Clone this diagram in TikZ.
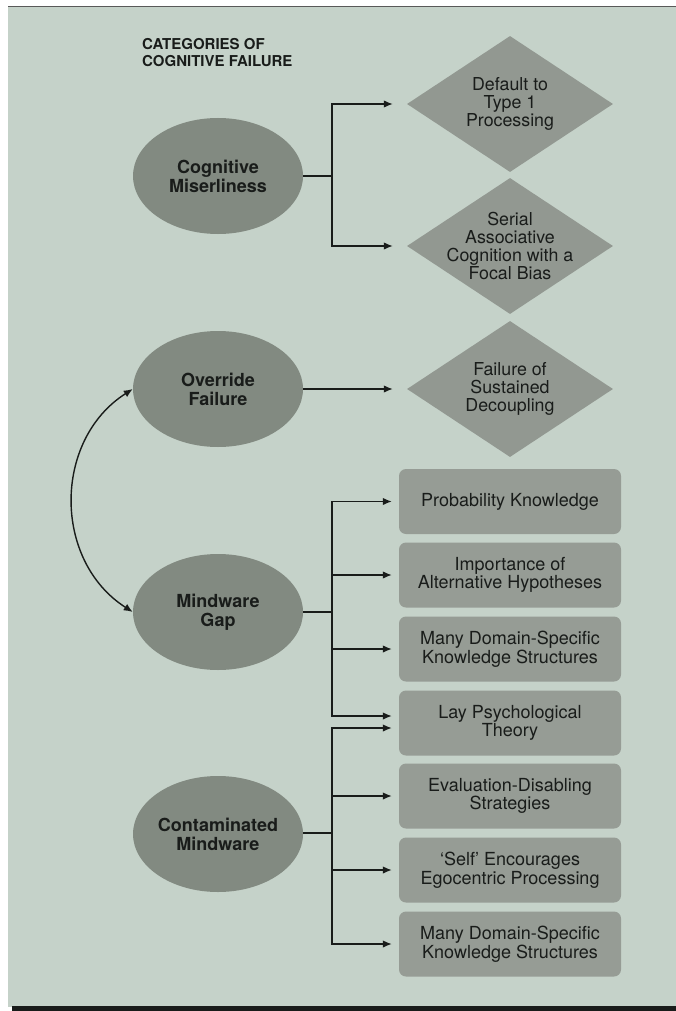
\documentclass[tikz,border=0pt]{standalone}
\usepackage{fontspec}
\setmainfont{TeX Gyre Heros}
\usetikzlibrary{shapes.geometric,arrows.meta}
\definecolor{bg}{RGB}{197,210,201}
\definecolor{ellfill}{RGB}{130,138,129}
\definecolor{diafill}{RGB}{146,152,145}
\definecolor{recfill}{RGB}{150,156,149}
\definecolor{ink}{RGB}{25,28,26}
\tikzset{
  cat/.style={ellipse, fill=ellfill, minimum width=170pt, minimum height=116pt, inner sep=0pt,
    align=center, font=\bfseries\fontsize{18}{19}\selectfont, text=ink},
  diabox/.style={diamond, fill=diafill, minimum width=206pt, minimum height=136pt, inner sep=0pt},
  diatext/.style={align=center, font=\fontsize{17.8}{18.3}\selectfont, text=ink, inner sep=0pt},
  recbox/.style={rectangle, rounded corners=7pt, fill=recfill, minimum width=222pt, minimum height=65pt,
    inner sep=0pt, align=center, font=\fontsize{18}{18.5}\selectfont, text=ink},
  conn/.style={draw=ink, line width=1.4pt},
  arrd/.style={conn, -{Latex[length=9pt,width=7.5pt]}, shorten >=14pt},
  arrr/.style={conn, -{Latex[length=9pt,width=7.5pt]}, shorten >=7pt},
}
\begin{document}
\begin{tikzpicture}[x=1pt,y=-1pt]
\useasboundingbox (0,0) rectangle (676,1011);
\fill[white] (0,0) rectangle (676,1011);
\fill[bg] (8,6) rectangle (676,1007);
\draw[gray!70!black, line width=0.8pt] (8,6) -- (676,6);
\fill[ink] (12,1006) rectangle (676,1011);

\node[anchor=north west, align=left, inner sep=0pt, font=\bfseries\fontsize{15}{17}\selectfont, text=ink]
  (title) at (142,38) {CATEGORIES OF\\COGNITIVE FAILURE};

% categories
\node[cat] (cm) at (218,176) {Cognitive\\Miserliness};
\node[cat] (of) at (218,389) {Override\\Failure};
\node[cat] (mg) at (218,612) {Mindware\\Gap};
\node[cat] (cw) at (218,834) {Contaminated\\Mindware};

% diamonds
\node[diabox] (d1) at (510,104) {};
\node[diatext] (d1t) at (d1) {Default to\\Type 1\\Processing};
\node[diabox] (d2) at (510,246) {};
\node[diatext] (d2t) at (d2) {Serial\\Associative\\Cognition with a\\Focal Bias};
\node[diabox] (d3) at (510,389) {};
\node[diatext] (d3t) at (d3) {Failure of\\Sustained\\Decoupling};

% rectangles
\node[recbox] (r1) at (510,501.5) {Probability Knowledge};
\node[recbox] (r2) at (510,575) {Importance of\\Alternative Hypotheses};
\node[recbox] (r3) at (510,649) {Many Domain-Specific\\Knowledge Structures};
\node[recbox] (r4) at (510,723) {Lay Psychological\\Theory};
\node[recbox] (r5) at (510,796) {Evaluation-Disabling\\Strategies};
\node[recbox] (r6) at (510,870) {`Self' Encourages\\Egocentric Processing};
\node[recbox] (r7) at (510,944) {Many Domain-Specific\\Knowledge Structures};

% junctions
\coordinate (j1) at (332,176);
\coordinate (j3) at (332,612);
\coordinate (j4) at (332,833);

% connectors
\draw[conn] (cm.east) -- (j1);
\draw[arrd] (j1) |- (d1.west);
\draw[arrd] (j1) |- (d2.west);

\draw[arrd] (of.east) -- (d3.west);

\draw[conn] (mg.east) -- (j3);
\draw[arrr] (j3) |- (r1.west);
\draw[arrr] (j3) |- (r2.west);
\draw[arrr] (j3) |- (r3.west);
\draw[arrr] (j3) |- ([yshift=7pt]r4.west);

\draw[conn] (cw.east |- j4) -- (j4);
\draw[arrr] (j4) |- ([yshift=-5pt]r4.west);
\draw[arrr] (j4) |- (r5.west);
\draw[arrr] (j4) |- (r6.west);
\draw[arrr] (j4) |- (r7.west);

% curved double arrow
\draw[conn, {Latex[length=9pt,width=7.5pt]}-{Latex[length=9pt,width=7.5pt]}]
  (of.west) .. controls +(-80,51) and +(-80,-51) .. (mg.west);
\end{tikzpicture}
\end{document}
